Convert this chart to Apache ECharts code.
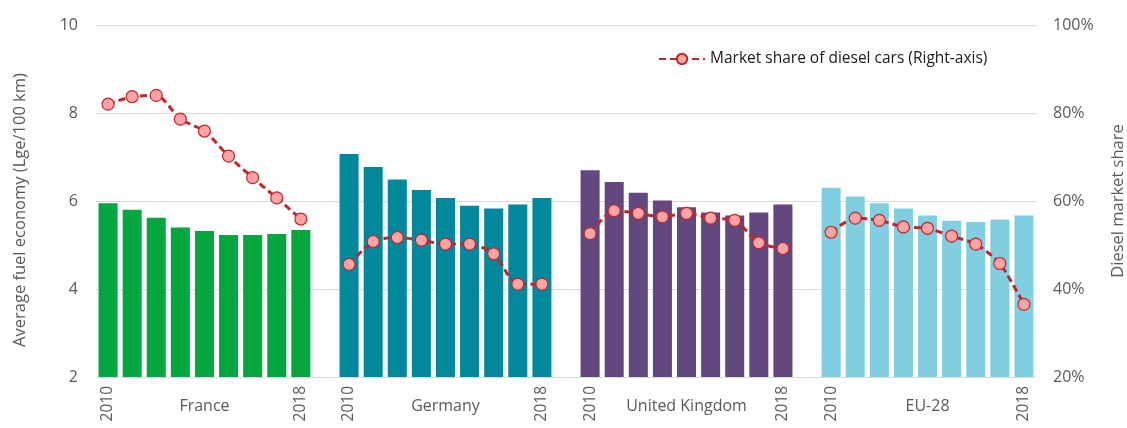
<!DOCTYPE html>
<html><head><meta charset="utf-8">
<script src="https://cdn.jsdelivr.net/npm/echarts@6/dist/echarts.min.js"></script>
<style>html,body{margin:0;padding:0;background:#fff}#c{width:1127px;height:428px}</style>
</head><body><div id="c"></div>
<script>
const years = ['2010','2011','2012','2013','2014','2015','2016','2017','2018'];
const countries = ['France','Germany','United Kingdom','EU-28'];
const colors = ['#03A63F','#01889D','#634880','#82CEE1'];
const fuelFrance  = [5.95,5.80,5.62,5.40,5.32,5.23,5.23,5.25,5.34];
const fuelGermany = [7.07,6.77,6.49,6.25,6.07,5.89,5.83,5.92,6.07];
const fuelUK      = [6.70,6.43,6.19,6.01,5.86,5.74,5.67,5.74,5.92];
const fuelEU      = [6.30,6.10,5.95,5.83,5.67,5.55,5.52,5.58,5.67];
const dieselFrance  = [82.0,83.7,84.0,78.6,75.9,70.2,65.3,60.7,55.9];
const dieselGermany = [45.6,50.8,51.7,51.1,50.2,50.2,48.0,41.1,41.1];
const dieselUK      = [52.6,57.8,57.2,56.4,57.2,56.1,55.6,50.5,49.2];
const dieselEU      = [52.9,56.1,55.6,54.1,53.8,52.0,50.2,45.8,36.5];
const leftTicks = [2,4,6,8,10];
const rightTicks = [20,40,60,80,100];

const fuel = [fuelFrance, fuelGermany, fuelUK, fuelEU];
const diesel = [dieselFrance, dieselGermany, dieselUK, dieselEU];
const cats = [], yearLab = [], countryLab = [], barData = [], lineData = [];
countries.forEach((c, gi) => {
  years.forEach((y, yi) => {
    cats.push(c + ' ' + y);
    yearLab.push(yi === 0 || yi === years.length - 1 ? y : '');
    countryLab.push(yi === 4 ? c : '');
    barData.push({value: fuel[gi][yi], itemStyle: {color: colors[gi]}});
    lineData.push(diesel[gi][yi]);
  });
  if (gi < countries.length - 1) {
    cats.push('gap' + gi); yearLab.push(''); countryLab.push('');
    barData.push(null); lineData.push(null);
  }
});

const FONT = 'Open Sans';
const grey = '#595959';
const chart = echarts.init(document.getElementById('c'), null, {renderer: 'canvas'});
chart.setOption({
  animation: false,
  textStyle: {fontFamily: FONT},
  grid: {left: 96, right: 91, top: 25, bottom: 51, outerBoundsMode: 'none', containLabel: false},
  legend: {
    data: ['Market share of diesel cars (Right-axis)'],
    left: 653, top: 46, itemWidth: 46, itemHeight: 13, itemGap: 6,
    textStyle: {fontFamily: FONT, fontSize: 15.5, color: '#1a1a1a'}
  },
  xAxis: [{
    type: 'category', data: cats, position: 'bottom',
    axisLine: {show: false}, axisTick: {show: false},
    axisLabel: {interval: 0, rotate: 90, margin: 9, fontSize: 15.5, color: grey, fontFamily: FONT,
      formatter: (v, i) => yearLab[i]}
  }, {
    type: 'category', data: cats, position: 'bottom',
    axisLine: {show: false}, axisTick: {show: false},
    axisLabel: {interval: 0, margin: 21, fontSize: 16, color: grey, fontFamily: FONT,
      formatter: (v, i) => countryLab[i]}
  }],
  yAxis: [{
    type: 'value', min: leftTicks[0], max: leftTicks[leftTicks.length-1], interval: 2,
    name: 'Average fuel economy (Lge/100 km)', nameLocation: 'middle', nameGap: 67,
    nameTextStyle: {fontSize: 16.5, color: grey, fontFamily: FONT, padding: [0, 18, 0, 0]},
    axisLine: {show: false}, axisTick: {show: false},
    axisLabel: {fontSize: 16, color: grey, margin: 18, fontFamily: FONT},
    splitLine: {lineStyle: {color: '#D9D9D9', width: 1}}
  }, {
    type: 'value', min: rightTicks[0], max: rightTicks[rightTicks.length-1], interval: 20,
    name: 'Diesel market share', nameLocation: 'middle', nameGap: 74, nameRotate: 90,
    nameTextStyle: {fontSize: 16.5, color: grey, fontFamily: FONT},
    axisLine: {show: false}, axisTick: {show: false},
    axisLabel: {fontSize: 16, color: grey, margin: 17, fontFamily: FONT, formatter: '{value}%'},
    splitLine: {show: false}
  }],
  series: [{
    type: 'bar', name: 'Average fuel economy', xAxisIndex: 0, yAxisIndex: 0,
    data: barData, barCategoryGap: '21%'
  }, {
    type: 'line', name: 'Market share of diesel cars (Right-axis)', xAxisIndex: 0, yAxisIndex: 1,
    data: lineData, connectNulls: false, smooth: 0.25,
    symbol: 'circle', symbolSize: 12,
    lineStyle: {color: '#C0272D', width: 3, type: [7, 4]},
    itemStyle: {color: '#FFA3A3', borderColor: '#C0272D', borderWidth: 1.2}
  }]
});
</script></body></html>
